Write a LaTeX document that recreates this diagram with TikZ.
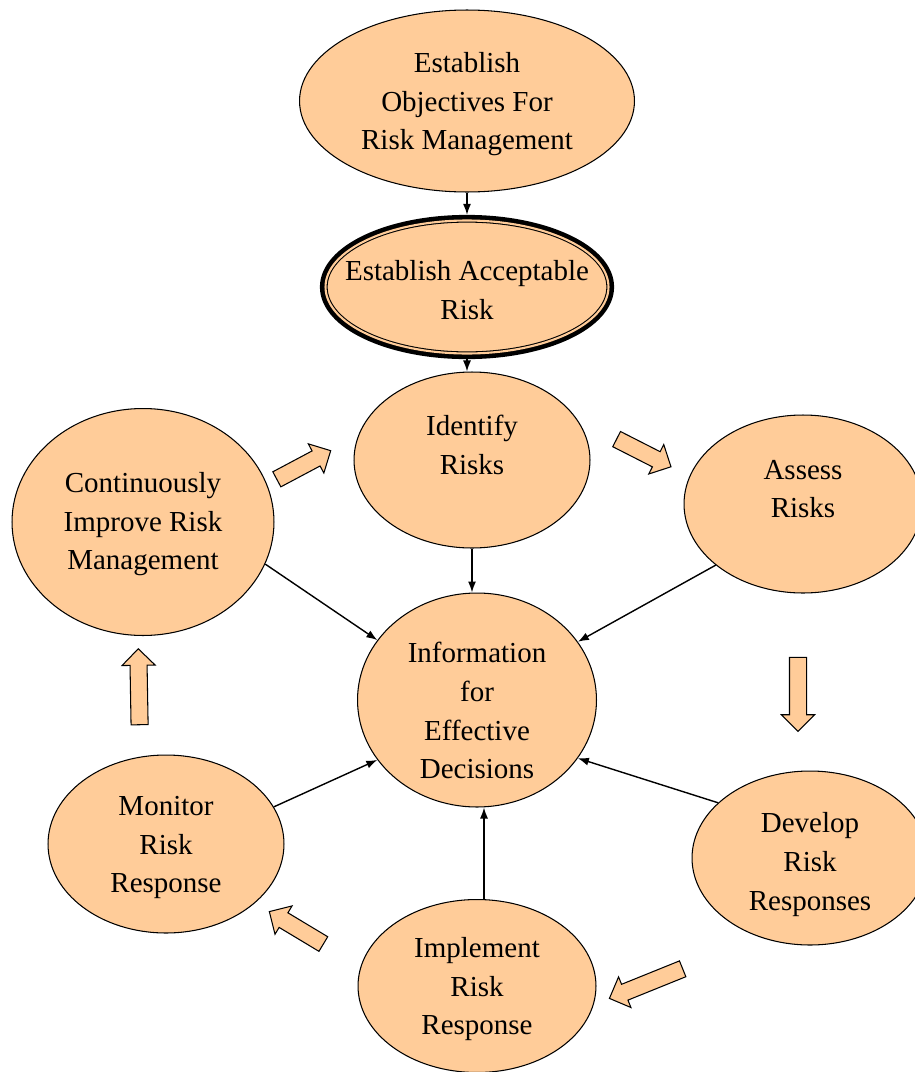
\documentclass[tikz,border=0pt]{standalone}
\usepackage{fontspec}
\setmainfont{Liberation Serif}
\usepackage{xcolor}
\usetikzlibrary{arrows.meta,shapes.geometric,shapes.arrows,positioning}
\definecolor{peach}{RGB}{255,204,153}

\begin{document}
\begin{tikzpicture}[x=0.02cm,y=-0.02cm,
    stage/.style={draw, ellipse, fill=peach, line width=0.6pt, inner sep=0pt, align=center, font=\fontsize{16.5}{22}\selectfont},
    ring/.style={preaction={draw, line width=6.4pt}, double=peach, double distance=1.2pt, line width=0.6pt, outer sep=3.2pt}]
        \tikzstyle{link} = [-{Latex[length=2.2mm,width=1.6mm]}, line width=0.8pt]
        \tikzstyle{bigarrow} = [single arrow, draw, fill=peach, line width=0.6pt, inner sep=0pt, minimum width=1pt, text height=0.32cm, text depth=0pt, single arrow head extend=0.16cm]
        \useasboundingbox (0,0) rectangle (914,1072);

        \node[stage, minimum width=6.7cm, minimum height=3.64cm] (objectives) at (467,101) {\mbox{}\\[-7pt]Establish\\Objectives For\\Risk Management};
        \node[stage, ring, inner xsep=-0.6cm, minimum width=5.66cm, minimum height=2.66cm] (acceptable) at (467,287) {\mbox{}\\[-7pt]Establish Acceptable\\Risk};
        \node[stage, minimum width=4.72cm, minimum height=3.52cm] (identify) at (472,460) {Identify\\Risks\\[-5pt]\mbox{}};
        \node[stage, minimum width=4.76cm, minimum height=3.56cm] (assess) at (803,504) {Assess\\Risks\\[-5pt]\mbox{}};
        \node[stage, minimum width=5.24cm, minimum height=4.54cm] (improve) at (143,522) {\mbox{}\\[-8pt]Continuously\\Improve Risk\\Management};
        \node[stage, inner ysep=-0.6cm, minimum width=4.78cm, minimum height=4.28cm] (info) at (477,700) {\mbox{}\\[2pt]Information\\for\\Effective\\Decisions};
        \node[stage, minimum width=4.72cm, minimum height=3.56cm] (monitor) at (166,844) {\mbox{}\\[-7pt]Monitor\\Risk\\Response};
        \node[stage, minimum width=4.76cm, minimum height=3.46cm] (implement) at (477,986) {\mbox{}\\[-7pt]Implement\\Risk\\Response};
        \node[stage, minimum width=4.72cm, minimum height=3.48cm] (develop) at (810,858) {\mbox{}\\[-3pt]Develop\\Risk\\Responses};

        \node[bigarrow, minimum height=1.22cm, rotate=28] (toidentify) at (300,467) {};
        \node[bigarrow, minimum height=1.22cm, rotate=-27] (toassess) at (640,451) {};
        \node[bigarrow, minimum height=1.48cm, rotate=-90] (todevelop) at (798,690) {};
        \node[bigarrow, minimum height=1.58cm, rotate=202] (toimplement) at (650,982) {};
        \node[bigarrow, minimum height=1.26cm, rotate=149] (tomonitor) at (300,930) {};
        \node[bigarrow, minimum height=1.52cm, rotate=91] (toimprove) at (139,691) {};

        \draw [link] (objectives) -- (acceptable);
        \draw [link] (acceptable.south) -- (acceptable.south |- identify.north);
        \draw [link] (identify.south) -- (identify.south |- info.north);
        \draw [link] (improve.-19) -- (info.149);
        \draw [link] (assess.215) -- (info.30);
        \draw [link] (monitor.19) -- (info.211);
        \draw [link] (develop.149) -- (info.-30);
        \draw [link] ([xshift=0.14cm]implement.north) -- ([xshift=0.14cm]info.south);
\end{tikzpicture}
\end{document}
